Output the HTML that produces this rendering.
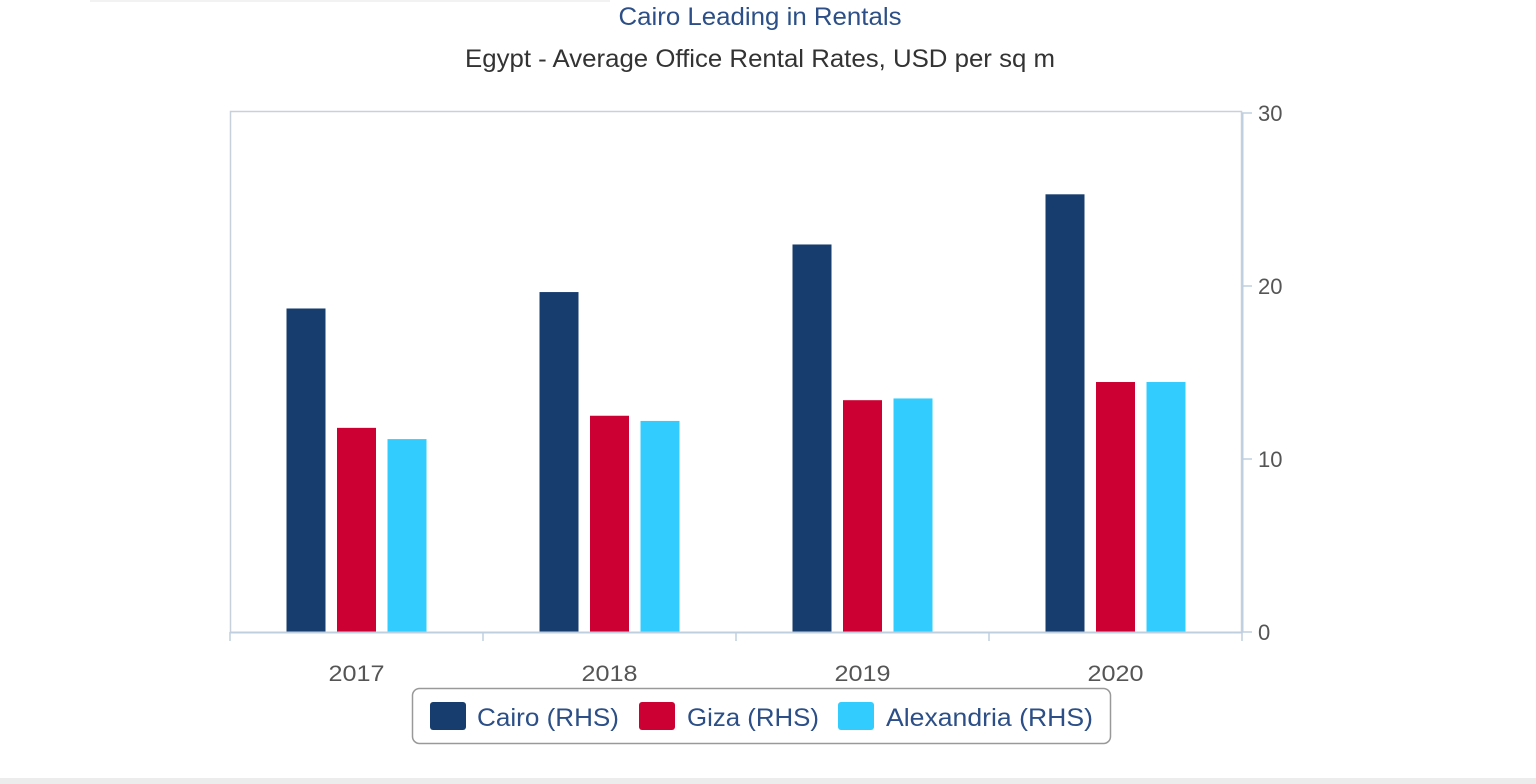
<!DOCTYPE html>
<html><head><meta charset="utf-8"><style>
html,body{margin:0;padding:0;background:#fff;width:1536px;height:784px;overflow:hidden}
svg{display:block;font-family:"Liberation Sans","DejaVu Sans",sans-serif}
</style></head><body>
<svg id="chart" width="1536" height="784" viewBox="0 0 1536 784">
<rect x="0" y="778" width="1536" height="6" fill="#ececec"/>
<rect x="90" y="-10" width="520" height="12" fill="#f2f2f2"/>
<text x="760" y="25" text-anchor="middle" font-size="25" fill="#2b4f86" textLength="283" lengthAdjust="spacingAndGlyphs">Cairo Leading in Rentals</text>
<text x="760" y="67" text-anchor="middle" font-size="25" fill="#333" textLength="590" lengthAdjust="spacingAndGlyphs">Egypt - Average Office Rental Rates, USD per sq m</text>
<rect x="230.5" y="111.5" width="1011" height="521" fill="#fff" stroke="#c8d0dc" stroke-width="1.5"/>
<g id="bars"></g>
<g id="axes"></g>
<g>
<rect x="412.5" y="688.5" width="698" height="55" rx="7" fill="#fff" stroke="#999" stroke-width="1.5"/>
<rect x="430" y="702" width="36" height="28" rx="3" fill="#173d6e"/>
<text x="477" y="726" font-size="25" fill="#2b4f86" textLength="142" lengthAdjust="spacingAndGlyphs">Cairo (RHS)</text>
<rect x="639" y="702" width="36" height="28" rx="3" fill="#cc0033"/>
<text x="687" y="726" font-size="25" fill="#2b4f86" textLength="132" lengthAdjust="spacingAndGlyphs">Giza (RHS)</text>
<rect x="838" y="702" width="36" height="28" rx="3" fill="#33ccff"/>
<text x="886" y="726" font-size="25" fill="#2b4f86" textLength="207" lengthAdjust="spacingAndGlyphs">Alexandria (RHS)</text>
</g>
</svg>
<script>
const categories = ["2017","2018","2019","2020"];
const cairo = [18.7, 19.65, 22.4, 25.3];
const giza = [11.8, 12.5, 13.4, 14.45];
const alexandria = [11.15, 12.2, 13.5, 14.45];
const yTicks = [0, 10, 20, 30];
const NS = "http://www.w3.org/2000/svg";
const plotL = 230, plotR = 1242, y0 = 632, y30 = 113;
function yScale(v){ return y0 - (v/30)*(y0-y30); }
function xCenter(i){ return plotL + (plotR-plotL)/categories.length*(i+0.5); }
function mk(tag, attrs, parent){ const e=document.createElementNS(NS,tag); for(const k in attrs) e.setAttribute(k,attrs[k]); parent.appendChild(e); return e; }
const bars = document.getElementById('bars');
const axes = document.getElementById('axes');
const series = [{d:cairo,c:"#173d6e",n:"cairo",o:-50.5},{d:giza,c:"#cc0033",n:"giza",o:0},{d:alexandria,c:"#33ccff",n:"alexandria",o:50.5}];
const bw = 39;
series.forEach(s=>{
  s.d.forEach((v,i)=>{
    const r = mk('rect',{x:xCenter(i)+s.o-bw/2,y:yScale(v),width:bw,height:y0-yScale(v),fill:s.c},bars);
    
    
  });
});
const xl = mk('line',{x1:plotL,y1:y0+0.5,x2:plotR,y2:y0+0.5,stroke:"#c0cfe0","stroke-width":2},axes);


for(let i=0;i<=categories.length;i++){
  const x = plotL + (plotR-plotL)/categories.length*i;
  const t = mk('line',{x1:x,y1:y0,x2:x,y2:y0+9,stroke:"#c0cfe0","stroke-width":1.5},axes);
  
  
}
categories.forEach((c,i)=>{
  const t = mk('text',{x:xCenter(i),y:681,"text-anchor":"middle","font-size":22,fill:"#555",textLength:56,lengthAdjust:"spacingAndGlyphs"},axes);
  t.textContent = c;
  
  
});
const yl = mk('line',{x1:plotR+0.5,y1:y30,x2:plotR+0.5,y2:y0,stroke:"#c0cfe0","stroke-width":2},axes);


yTicks.forEach(v=>{
  const y = yScale(v);
  const t = mk('line',{x1:plotR,y1:y,x2:plotR+10,y2:y,stroke:"#c0cfe0","stroke-width":1.5},axes);
  
  
  const l = mk('text',{x:1258,y:y+8,"font-size":22,fill:"#555"},axes);
  l.textContent = v;
  
  
});
</script>
</body></html>
